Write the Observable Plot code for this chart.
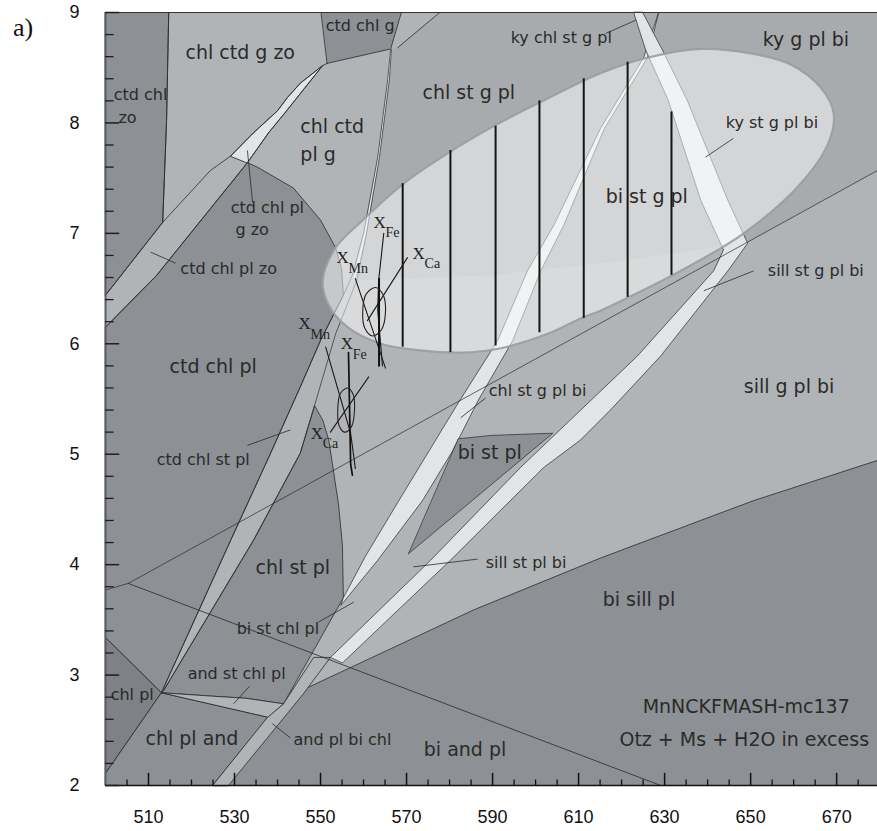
<!DOCTYPE html>
<html>
<head>
<meta charset="utf-8">
<script src="https://cdn.jsdelivr.net/npm/d3@7"></script>
<script src="https://cdn.jsdelivr.net/npm/@observablehq/plot@0.6"></script>
<style>
  html, body { margin: 0; padding: 0; background: #fff; overflow: hidden; }
  #wrap { position: relative; width: 877px; height: 831px; }
  #panel { position: absolute; left: 13px; top: 13px; line-height: 1; font: 26px "Liberation Serif", "Times New Roman", serif; color: #111; }
</style>
</head>
<body>
<div id="wrap"><div id="panel">a)</div></div>
<script>
// P–T pseudosection, MnNCKFMASH, vertices as [T °C, P kbar]

// axis ticks
const xTickLabels = [510, 530, 550, 570, 590, 610, 630, 650, 670];
const xMinorTicks = [505, 515, 520, 525, 535, 540, 545, 555, 560, 565, 575, 580, 585, 595, 600, 605, 615, 620, 625, 635, 640, 645, 655, 660, 665, 675];
const yTickLabels = [2, 3, 4, 5, 6, 7, 8, 9];
const yMinorTicks = [2.2, 2.4, 2.6, 2.8, 3.2, 3.4, 3.6, 3.8, 4.2, 4.4, 4.6, 4.8, 5.2, 5.4, 5.6, 5.8, 6.2, 6.4, 6.6, 6.8, 7.2, 7.4, 7.6, 7.8, 8.2, 8.4, 8.6, 8.8];

// field outlines
const ctdChlZo = [[500,9],[514.7,9],[514.2,8.02],[513.3,7.10],[500,6.44]];
const ctdChlG = [[550.2,9],[568.8,9],[566.3,8.67],[551.6,8.54]];
const chlStGPl = [[566.5,8.67],[567.9,8.68],[577.7,9.0],[680,9.0],[680,7.58],[649.3,6.92],[620,6.75],[590,6.62],[558.4,6.57],[560.7,7.00],[563.7,7.69],[566.0,8.39]];
const ctdChlPl = [[500,6.15],[511.9,6.62],[533.0,7.64],[535.3,7.60],[543.7,7.41],[550.0,7.12],[553.5,6.87],[554.9,6.68],[555.3,6.44],[550.0,6.03],[545.3,5.61],[538.4,5.01],[529.1,4.22],[513.0,2.84],[500,3.34]];
const chlPl = [[500,3.34],[513.0,2.84],[500,2.11]];
const chlPlAnd = [[500,2.11],[513.0,2.84],[537.8,2.62],[524.9,2.0],[500,2.0]];
const chlStPl = [[513.5,2.86],[534.4,4.22],[545.3,5.01],[548.6,5.44],[550.5,5.31],[551.9,5.13],[553.0,4.85],[554.2,4.54],[555.1,4.17],[555.3,3.70],[541.4,2.74],[532.6,2.79],[524.4,2.81],[513.0,2.84]];
const biSillPl = [[528.6,2.0],[546.0,2.83],[547.2,2.89],[585.6,3.59],[615.1,4.06],[650.7,4.58],[680,4.95],[680,2.0]];
const andPlBiChl = [[524.9,2.0],[537.7,2.62],[541.4,2.74],[548.4,3.16],[552.3,3.16],[546.0,2.83],[528.6,2.0]];
const andStChlPl = [[513.0,2.84],[524.4,2.81],[532.6,2.79],[541.4,2.74],[537.8,2.62]];
const ctdChlPlGZo = [[529.1,7.70],[534.4,7.91],[540.0,8.11],[542.3,8.23],[545.3,8.36],[550.5,8.52],[541.9,8.10],[537.9,7.91],[533.0,7.64]];
const biStPl = [[582.1,5.14],[589.5,5.17],[596.5,5.18],[604.0,5.19],[570.5,4.10]];
const chlStGPlBi = [[628.6,9.0],[625.1,8.59],[615.1,7.95],[604.2,7.07],[598.1,6.66],[591.2,6.03],[582.1,5.47],[567.9,4.56],[560.5,4.08],[555.3,3.70],[554.7,3.63],[563.3,4.04],[573.7,4.58],[580.7,5.03],[586.7,5.49],[594.7,6.03],[601.2,6.66],[606.5,7.07],[616.0,7.95],[626.0,8.59]];
const kyStGPlBi = [[622.8,9.0],[625.6,8.66],[630.9,8.20],[638.4,7.30],[643.7,6.85],[641.4,6.66],[623.7,5.89],[610.5,5.40],[596.5,4.88],[575.6,4.04],[552.3,3.16],[555.1,3.11],[580.2,4.04],[601.9,4.88],[610.5,5.13],[617.4,5.40],[629.1,5.89],[644.7,6.66],[649.3,6.91],[644.7,7.30],[635.3,8.20],[629.5,8.66],[624.9,9.0]];

// reaction lines
const zoOut = [[514.7,9],[514.2,8.02],[513.3,7.10]];
const bandAUpper = [[500,6.44],[513.3,7.10],[524.4,7.57],[529.1,7.70],[534.4,7.91],[540.0,8.11],[542.3,8.23],[545.3,8.36],[550.5,8.52],[551.6,8.54]];
const bandALower = [[500,6.15],[511.9,6.62],[533.0,7.64],[537.9,7.91],[541.9,8.10],[550.5,8.52]];
const bandCLeft = [[513.0,2.84],[529.1,4.22],[538.4,5.01],[545.3,5.61],[550.0,6.03],[555.3,6.44],[557.4,6.62],[560.0,7.00],[563.3,7.69],[565.6,8.39],[566.3,8.67]];
const bandCRight = [[513.5,2.86],[534.4,4.22],[545.3,5.01],[548.6,5.44],[553.5,6.09],[558.4,6.57],[560.7,7.00],[563.7,7.69],[566.0,8.39],[566.5,8.67]];
const bandCCore = [[557.9,6.60],[560.35,7.00],[563.5,7.69],[565.8,8.39],[566.4,8.67]];
const ctdOut = [[567.9,8.68],[577.7,9.0]];
const biIn = [[500,3.77],[505.3,3.83],[680,7.58]];
const andSill = [[505.3,3.83],[629.1,2.0]];
const stOut = [[547.2,2.89],[585.6,3.59],[615.1,4.06],[650.7,4.58],[680,4.95]];

// P–T estimate
const ptEllipse = [[550.5,6.57],[553.5,6.87],[559.3,7.10],[569.3,7.45],[580.2,7.74],[590.7,7.98],[601.2,8.19],[615.1,8.45],[626.0,8.59],[638.4,8.67],[650.0,8.63],[659.3,8.53],[666.3,8.32],[669.3,8.09],[668.1,7.82],[661.6,7.45],[648.4,7.00],[633.7,6.66],[622.1,6.43],[615.1,6.30],[610.5,6.23],[602.8,6.09],[591.9,5.96],[582.6,5.92],[573.3,5.94],[564.0,6.00],[556.3,6.15],[551.9,6.35]];
const hatchT = [569.1, 580.2, 590.7, 600.9, 611.2, 621.4, 631.6];
const hatchTop = [7.45, 7.75, 7.97, 8.20, 8.40, 8.55, 8.10];
const hatchBottom = [5.97, 5.92, 5.98, 6.10, 6.23, 6.42, 6.62];

// garnet isopleths
const upperMn = [[558.1,6.59],[561.2,6.23],[565.1,5.78]];
const upperFe = [[564.7,7.00],[563.5,6.57],[563.3,6.30],[564.4,5.80]];
const upperCa = [[570.2,6.78],[560.9,6.21]];
const upperBar = [[563.6,6.59],[563.6,5.80]];
const lowerMn = [[551.2,5.97],[557.0,5.19],[558.1,4.87]];
const lowerFe = [[556.5,5.92],[557.0,4.91],[557.4,4.81]];
const lowerCa = [[561.2,5.70],[552.3,5.20]];
const upperCross = [[562.8,6.51],[564.6,6.44],[565.1,6.29],[564.2,6.13],[562.1,6.07],[560.3,6.14],[559.8,6.29],[560.6,6.45]];
const lowerCross = [[556.3,5.60],[557.6,5.54],[557.9,5.40],[557.2,5.25],[555.6,5.20],[554.3,5.26],[554.0,5.40],[554.6,5.55]];
const isoElement = ["Mn", "Fe", "Ca", "Mn", "Fe", "Ca"];
const isoT = [553.7, 562.3, 571.4, 544.9, 554.7, 547.7];
const isoP = [6.78, 7.10, 6.82, 6.18, 6.00, 5.19];

// field labels
const bigNames = ["chl ctd g zo", "chl ctd", "pl g", "chl st g pl", "ky g pl bi", "bi st g pl", "ctd chl pl", "sill g pl bi", "bi st pl", "chl st pl", "bi sill pl", "chl pl and", "bi and pl", "MnNCKFMASH-mc137", "Otz + Ms + H2O in excess"];
const bigT = [518.6, 545.3, 545.3, 573.7, 652.8, 616.3, 514.9, 648.4, 581.9, 534.9, 615.6, 509.3, 574.0, 624.9, 619.5];
const bigP = [8.63, 7.96, 7.71, 8.27, 8.75, 7.33, 5.79, 5.61, 5.01, 3.97, 3.68, 2.42, 2.32, 2.71, 2.41];
const smallNames = ["ctd chl", "zo", "ctd chl pl", "g zo", "ctd chl pl zo", "ctd chl st pl", "ky chl st g pl", "ky st g pl bi", "sill st g pl bi", "chl st g pl bi", "sill st pl bi", "bi st chl pl", "and st chl pl", "and pl bi chl", "chl pl", "ctd chl g"];
const smallT = [501.9, 503.0, 529.1, 530.2, 517.4, 511.9, 594.2, 644.2, 654.0, 589.1, 588.4, 530.5, 519.1, 543.7, 501.2, 551.2];
const smallP = [8.25, 8.05, 7.23, 7.03, 6.68, 4.95, 8.77, 8.00, 6.66, 5.57, 4.02, 3.42, 3.01, 2.41, 2.82, 8.88];
const leaders = [
  {x1: 533.0, y1: 7.75, x2: 534.2, y2: 7.28},
  {x1: 510.5, y1: 6.83, x2: 516.3, y2: 6.73},
  {x1: 533.0, y1: 5.08, x2: 543.0, y2: 5.22},
  {x1: 616.3, y1: 8.81, x2: 623.3, y2: 8.93},
  {x1: 639.5, y1: 7.69, x2: 646.0, y2: 7.86},
  {x1: 639.1, y1: 6.48, x2: 650.7, y2: 6.66},
  {x1: 582.6, y1: 5.33, x2: 588.4, y2: 5.51},
  {x1: 571.6, y1: 3.98, x2: 586.5, y2: 4.05},
  {x1: 549.5, y1: 3.48, x2: 557.7, y2: 3.66},
  {x1: 529.8, y1: 2.74, x2: 533.5, y2: 2.90},
  {x1: 538.8, y1: 2.56, x2: 543.0, y2: 2.43}
];

const light = "#b1b4b7", mid = "#a8abae", dark = "#8d9094", darker = "#7e8185", white = "#e2e4e6", ink = "#2a2a2a";

const poly = (pts, o) => Plot.line(pts, {x: d => d[0], y: d => d[1], curve: "linear-closed", stroke: ink, strokeWidth: 0.8, ...o});
const path = (pts, o) => Plot.line(pts, {x: d => d[0], y: d => d[1], stroke: ink, strokeWidth: 0.8, ...o});

const hatch = hatchT.map((t, i) => ({T: t, top: hatchTop[i], bottom: hatchBottom[i]}));
const isoLabels = isoElement.map((e, i) => ({e, T: isoT[i], P: isoP[i]}));
const bigLabels = bigNames.map((n, i) => ({n, T: bigT[i], P: bigP[i]}));
const smallLabels = smallNames.map((n, i) => ({n, T: smallT[i], P: smallP[i]}));

const chart = Plot.plot({
  width: 877, height: 831,
  marginTop: 12, marginBottom: 46, marginLeft: 105, marginRight: 0,
  x: {domain: [500, 679.5]},
  y: {domain: [2, 9]},
  style: {fontFamily: "DejaVu Sans", background: "white", color: ink},
  marks: [
    Plot.frame({fill: light, stroke: "none"}),
    poly(chlStGPl, {fill: mid, stroke: "none"}),
    poly(ctdChlZo, {fill: dark}),
    poly(ctdChlG, {fill: dark}),
    poly(ctdChlPl, {fill: dark}),
    poly(chlPl, {fill: darker}),
    poly(chlPlAnd, {fill: dark}),
    poly(chlStPl, {fill: dark}),
    poly(biSillPl, {fill: dark, stroke: "none"}),
    poly(andPlBiChl, {fill: light}),
    poly(andStChlPl, {fill: light}),
    poly(ctdChlPlGZo, {fill: white}),
    path(zoOut), path(bandAUpper), path(bandALower),
    path(bandCCore, {stroke: white, strokeWidth: 1.6}),
    path(bandCLeft, {strokeWidth: 0.7}), path(bandCRight, {strokeWidth: 0.7}),
    poly(chlStGPlBi, {fill: white, strokeWidth: 0.7}),
    poly(kyStGPlBi, {fill: white, strokeWidth: 0.7}),
    poly(biStPl, {fill: dark, strokeWidth: 0.7}),
    path(ctdOut), path(biIn, {strokeWidth: 0.7}), path(andSill, {strokeWidth: 0.8}), path(stOut),
    // P–T ellipse as a translucent veil
    Plot.line(ptEllipse, {x: d => d[0], y: d => d[1], curve: "catmull-rom-closed", fill: "white", fillOpacity: 0.5, stroke: "#9a9da1", strokeWidth: 2.2, strokeOpacity: 0.9}),
    Plot.text(bigLabels, {x: "T", y: "P", text: "n", textAnchor: "start", fontSize: 19, fill: ink}),
    Plot.ruleX(hatch, {x: "T", y1: "bottom", y2: "top", stroke: "#141414", strokeWidth: 2}),
    // isopleth intersections
    path(upperMn, {stroke: "#1a1a1a", strokeWidth: 1.1}),
    path(upperFe, {stroke: "#1a1a1a", strokeWidth: 1.1}),
    path(upperCa, {stroke: "#1a1a1a", strokeWidth: 1.1}),
    path(upperBar, {stroke: "#111", strokeWidth: 2}),
    path(lowerMn, {stroke: "#1a1a1a", strokeWidth: 1.1}),
    path(lowerFe, {stroke: "#111", strokeWidth: 1.7}),
    path(lowerCa, {stroke: "#1a1a1a", strokeWidth: 1.1}),
    Plot.line(upperCross, {x: d => d[0], y: d => d[1], curve: "catmull-rom-closed", stroke: "#2a2020", strokeWidth: 1.1}),
    Plot.line(lowerCross, {x: d => d[0], y: d => d[1], curve: "catmull-rom-closed", stroke: "#2a2020", strokeWidth: 1.1}),
    Plot.text(isoLabels, {x: "T", y: "P", text: () => "X", textAnchor: "start", fontSize: 17, fontFamily: "Liberation Serif", fill: "#222"}),
    Plot.text(isoLabels, {x: "T", y: "P", text: "e", textAnchor: "start", dx: 12, dy: 10.5, fontSize: 14, fontFamily: "Liberation Serif", fill: "#222"}),
    Plot.text(smallLabels, {x: "T", y: "P", text: "n", textAnchor: "start", fontSize: 16, fill: ink}),
    Plot.link(leaders, {x1: "x1", y1: "y1", x2: "x2", y2: "y2", stroke: ink, strokeWidth: 0.8}),
    // frame and inward ticks
    Plot.ruleX([500], {stroke: "#5b5d60", strokeWidth: 2}),
    Plot.ruleY([2], {stroke: "#111", strokeWidth: 1.5}),
    Plot.ruleY([9], {stroke: "#333", strokeWidth: 1.2}),
    Plot.ruleY(yTickLabels, {x1: 500, x2: 503.3, stroke: "#1e1e1e", strokeWidth: 1.5}),
    Plot.ruleY(yMinorTicks, {x1: 500, x2: 502, stroke: "#1e1e1e", strokeWidth: 1.3}),
    Plot.ruleX(xTickLabels, {y1: 2, y2: 2.11, stroke: "#111", strokeWidth: 1.5}),
    Plot.ruleX(xMinorTicks, {y1: 2, y2: 2.05, stroke: "#111", strokeWidth: 1.3}),
    Plot.axisX(xTickLabels, {tickSize: 0, tickPadding: 25, fontSize: 18, fontFamily: "Liberation Sans", fill: "#111", label: null, tickFormat: d => String(d)}),
    Plot.axisY(yTickLabels, {tickSize: 0, tickPadding: 26, fontSize: 18, fontFamily: "Liberation Sans", fill: "#111", label: null, tickFormat: d => String(d)})
  ]
});
document.getElementById("wrap").prepend(chart);
</script>
</body>
</html>
